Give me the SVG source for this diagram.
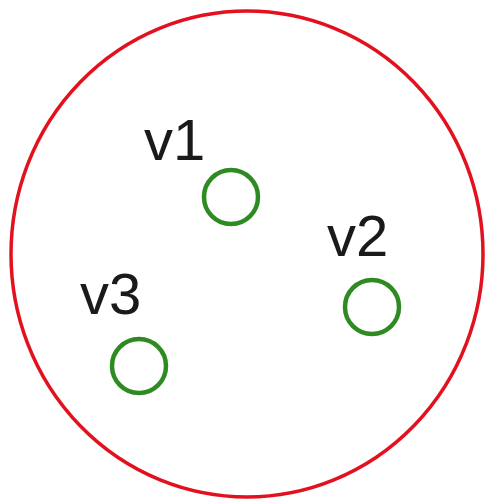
<svg xmlns="http://www.w3.org/2000/svg" width="488" height="502" viewBox="0 0 488 502">
<style>
.set{fill:#ffffff;stroke:#e3101e;stroke-width:3.5}
.node{fill:none;stroke:#2e8b22;stroke-width:4.5}
.lbl{font-family:"Liberation Sans",Arial,sans-serif;font-size:58px;fill:#1a1a1a}
</style>
<rect width="488" height="502" fill="#ffffff"/>
<g id="set"><ellipse class="set" cx="247" cy="254" rx="236" ry="243"/></g>
<g id="connectors"></g>
<g id="v1"><circle class="node" cx="231" cy="197" r="27"/><text class="lbl" x="144" y="160">v1</text></g>
<g id="v2"><circle class="node" cx="372" cy="307" r="27"/><text class="lbl" x="327" y="256">v2</text></g>
<g id="v3"><circle class="node" cx="139" cy="366" r="27"/><text class="lbl" x="80" y="314">v3</text></g>
</svg>
